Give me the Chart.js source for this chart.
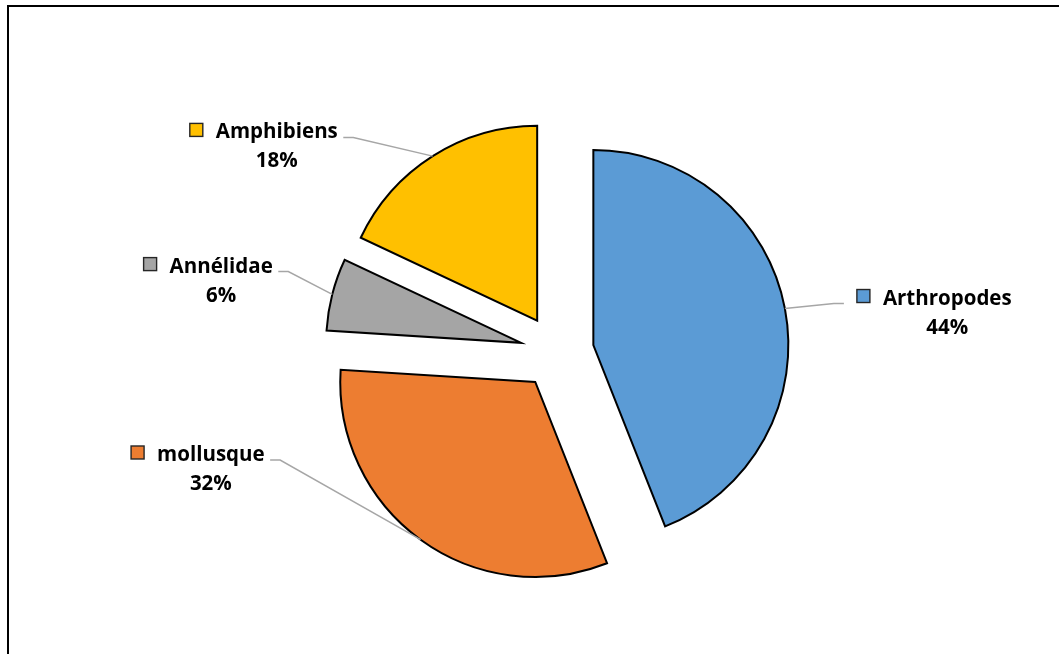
<!DOCTYPE html>
<html>
<head>
<meta charset="utf-8">
<script src="https://cdn.jsdelivr.net/npm/chart.js@4/dist/chart.umd.min.js"></script>
<style>
  html, body { margin: 0; padding: 0; background: #fff; overflow: hidden; }
  #wrap { position: relative; width: 1059px; height: 654px; }
  #frame { position: absolute; left: 7px; top: 5px; width: 1100px; height: 700px;
           border-top: 2px solid #000; border-left: 2px solid #000; box-sizing: border-box; pointer-events: none; }
  canvas { position: absolute; left: 0; top: 0; }
</style>
</head>
<body>
<div id="wrap">
  <canvas id="c" width="1059" height="654"></canvas>
  <div id="frame"></div>
</div>
<script>
// Share of each animal group (percent)
const categories = ['Arthropodes', 'mollusque', 'Annélidae', 'Amphibiens'];
const shares = [44, 32, 6, 18];
const percentLabels = ['44%', '32%', '6%', '18%'];
const sliceColors = ['#5B9BD5', '#ED7D31', '#A5A5A5', '#FFC000'];

// Where each label's leader line ends, relative to the middle of its slice's rim
const leaderEnds = [[59, -5], [-150.5, -79.7], [-54, -22.7], [-89.4, -18.7]];
const explodeDistance = 37;
const labelFont = 'bold 20.5px "Open Sans"';

// Pull every slice outward along its bisector, drawing it with the arc element itself
const explodeSlices = {
  id: 'explodeSlices',
  beforeDatasetDraw(chart, args) {
    const ctx = chart.ctx;
    args.meta.data.forEach(arc => {
      const h = (arc.startAngle + arc.endAngle) / 2;
      ctx.save();
      ctx.translate(Math.cos(h) * explodeDistance, Math.sin(h) * explodeDistance);
      arc.draw(ctx, chart.chartArea);
      ctx.restore();
    });
    return false;
  }
};

// Outside labels with a colour key, leader line and percentage
const sliceLabels = {
  id: 'sliceLabels',
  afterDatasetsDraw(chart) {
    const ctx = chart.ctx;
    const arcs = chart.getDatasetMeta(0).data;
    ctx.save();
    ctx.font = labelFont;
    arcs.forEach((arc, i) => {
      const h = (arc.startAngle + arc.endAngle) / 2;
      const r = arc.outerRadius + explodeDistance;
      const mx = arc.x + Math.cos(h) * r;
      const my = arc.y + Math.sin(h) * r;
      const ex = mx + leaderEnds[i][0];
      const ey = my + leaderEnds[i][1];
      const leftSide = ex < mx;
      const elbowX = ex + (leftSide ? 10 : -10);

      ctx.strokeStyle = '#A6A6A6';
      ctx.lineWidth = 1.5;
      ctx.beginPath();
      ctx.moveTo(mx, my);
      ctx.lineTo(elbowX, ey);
      ctx.lineTo(ex, ey);
      ctx.stroke();

      const name = categories[i];
      const nameW = ctx.measureText(name).width;
      const baseline = ey + 1;
      let keyX, nameX;
      if (leftSide) {
        nameX = ex - 5.5 - nameW;
        keyX = nameX - 13 - 13;
      } else {
        keyX = ex + 13;
        nameX = keyX + 13 + 13;
      }
      ctx.fillStyle = sliceColors[i];
      ctx.fillRect(keyX, baseline - 15, 13, 13);
      ctx.strokeStyle = '#262626';
      ctx.lineWidth = 1.4;
      ctx.strokeRect(keyX, baseline - 15, 13, 13);

      ctx.fillStyle = '#000';
      ctx.textBaseline = 'alphabetic';
      ctx.textAlign = 'left';
      ctx.fillText(name, nameX, baseline);
      ctx.textAlign = 'center';
      ctx.fillText(percentLabels[i], nameX + nameW / 2, baseline + 29);
    });
    ctx.restore();
  }
};

new Chart(document.getElementById('c'), {
  type: 'pie',
  data: {
    labels: categories,
    datasets: [{
      data: shares,
      backgroundColor: sliceColors,
      borderColor: '#000',
      borderWidth: 2,
      borderJoinStyle: 'miter',
      radius: 195
    }]
  },
  options: {
    responsive: false,
    animation: false,
    events: [],
    layout: { padding: { left: 55, right: 0, top: 50, bottom: 0 } },
    plugins: { legend: { display: false }, tooltip: { enabled: false } }
  },
  plugins: [explodeSlices, sliceLabels]
});
</script>
</body>
</html>
